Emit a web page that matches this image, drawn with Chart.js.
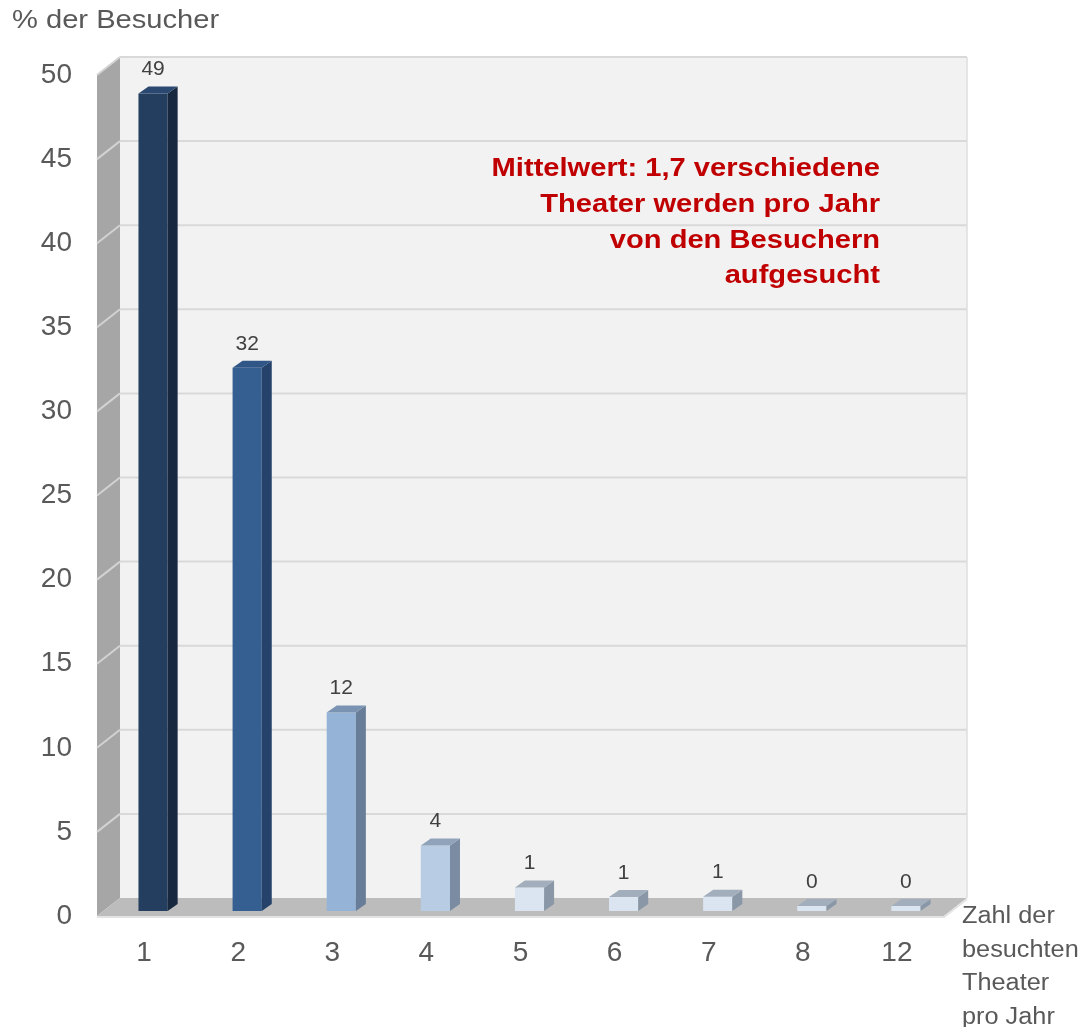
<!DOCTYPE html>
<html><head><meta charset="utf-8">
<script src="https://cdn.jsdelivr.net/npm/chart.js@4/dist/chart.umd.min.js"></script>
<style>html,body{margin:0;padding:0;background:#fff}#wrap{width:1087px;height:1027px}</style>
</head><body><div id="wrap"><canvas id="c" width="1087" height="1027"></canvas></div>
<script>
const categories = ['1', '2', '3', '4', '5', '6', '7', '8', '12'];
const values = [48.6, 32.3, 11.8, 3.9, 1.4, 0.83, 0.85, 0.3, 0.3];
const valueLabels = ['49', '32', '12', '4', '1', '1', '1', '0', '0'];
const yMin = 0, yMax = 50, yStep = 5;
const frontColors = ['#243e5f', '#355f91', '#95b3d7', '#b8cce4', '#dbe5f1', '#dbe5f1', '#dbe5f1', '#dbe5f1', '#dbe5f1'];
const sideColors = ['#18293f', '#24426a', '#687e98', '#7b8ca2', '#8a97a7', '#8a97a7', '#8a97a7', '#8a97a7', '#8a97a7'];
const topColors = ['#2b4970', '#2f5686', '#7a93b2', '#90a3ba', '#a3aebc', '#a3aebc', '#a3aebc', '#a3aebc', '#a3aebc'];
const yAxisTitle = '% der Besucher';
const xAxisTitleLines = ['Zahl der', 'besuchten', 'Theater', 'pro Jahr'];
const noteLines = ['Mittelwert: 1,7 verschiedene', 'Theater werden pro Jahr', 'von den Besuchern', 'aufgesucht'];

const FONT = '"Liberation Sans", Arial, sans-serif';
const WALL_DX = 23, WALL_DY = -18;   // depth of the box
const BAR_SHIFT_X = 9, BAR_SHIFT_Y = -5; // bars sit inside the box
const BAR_DX = 10, BAR_DY = -7;      // depth of each bar

const boxPlugin = {
  id: 'box3d',
  beforeDraw(chart) {
    const ctx = chart.ctx, a = chart.chartArea, ys = chart.scales.y;
    const L = a.left, R = a.right, B = a.bottom, T = ys.getPixelForValue(yMax);
    ctx.save();
    ctx.fillStyle = '#f2f2f2';
    ctx.fillRect(L + WALL_DX, T + WALL_DY, R - L, B - T);
    ctx.fillStyle = '#a6a6a6';
    ctx.beginPath();
    ctx.moveTo(L, B); ctx.lineTo(L, T); ctx.lineTo(L + WALL_DX, T + WALL_DY); ctx.lineTo(L + WALL_DX, B + WALL_DY);
    ctx.closePath(); ctx.fill();
    for (let v = yMin + yStep; v <= yMax; v += yStep) {
      const y = ys.getPixelForValue(v);
      ctx.strokeStyle = '#d9d9d9'; ctx.lineWidth = 2;
      ctx.beginPath(); ctx.moveTo(L + WALL_DX, y + WALL_DY); ctx.lineTo(R + WALL_DX, y + WALL_DY); ctx.stroke();
      ctx.strokeStyle = '#d2d2d2';
      ctx.beginPath(); ctx.moveTo(L, y); ctx.lineTo(L + WALL_DX, y + WALL_DY); ctx.stroke();
    }
    ctx.strokeStyle = '#dedede'; ctx.lineWidth = 1.5;
    ctx.beginPath(); ctx.moveTo(R + WALL_DX, T + WALL_DY); ctx.lineTo(R + WALL_DX, B + WALL_DY); ctx.stroke();
    ctx.fillStyle = '#bcbcbc';
    ctx.beginPath();
    ctx.moveTo(L, B); ctx.lineTo(R, B); ctx.lineTo(R + WALL_DX, B + WALL_DY); ctx.lineTo(L + WALL_DX, B + WALL_DY);
    ctx.closePath(); ctx.fill();
    ctx.strokeStyle = '#e3e3e3'; ctx.lineWidth = 2;
    ctx.beginPath(); ctx.moveTo(L, B + 1); ctx.lineTo(R, B + 1); ctx.lineTo(R + WALL_DX, B + WALL_DY + 1); ctx.stroke();
    ctx.fillStyle = '#595959';
    ctx.font = '26px ' + FONT;
    ctx.textBaseline = 'alphabetic'; ctx.textAlign = 'left';
    ctx.save(); ctx.translate(12, 28); ctx.scale(1.12, 1); ctx.fillText(yAxisTitle, 0, 0); ctx.restore();
    ctx.font = '23px ' + FONT;
    xAxisTitleLines.forEach((t, i) => { ctx.save(); ctx.translate(962, 923 + i * 33.5); ctx.scale(1.1, 1); ctx.fillText(t, 0, 0); ctx.restore(); });
    ctx.fillStyle = '#c00000';
    ctx.font = 'bold 26px ' + FONT;
    ctx.textAlign = 'right';
    const base = [176, 212, 248, 283];
    noteLines.forEach((t, i) => { ctx.save(); ctx.translate(880, base[i]); ctx.scale(1.12, 1); ctx.fillText(t, 0, 0); ctx.restore(); });
    ctx.restore();
  },
  beforeDatasetsDraw(chart) {
    chart.ctx.save();
    chart.ctx.translate(BAR_SHIFT_X, BAR_SHIFT_Y);
  },
  afterDatasetsDraw(chart) {
    const ctx = chart.ctx;
    const meta = chart.getDatasetMeta(0);
    meta.data.forEach((el, i) => {
      const w = el.width, x0 = el.x - w / 2, x1 = el.x + w / 2, top = el.y, bot = el.base;
      ctx.fillStyle = sideColors[i];
      ctx.beginPath();
      ctx.moveTo(x1, bot); ctx.lineTo(x1, top); ctx.lineTo(x1 + BAR_DX, top + BAR_DY); ctx.lineTo(x1 + BAR_DX, bot + BAR_DY);
      ctx.closePath(); ctx.fill();
      ctx.fillStyle = topColors[i];
      ctx.beginPath();
      ctx.moveTo(x0, top); ctx.lineTo(x1, top); ctx.lineTo(x1 + BAR_DX, top + BAR_DY); ctx.lineTo(x0 + BAR_DX, top + BAR_DY);
      ctx.closePath(); ctx.fill();
    });
    ctx.restore();
    ctx.save();
    ctx.fillStyle = '#404040';
    ctx.font = '21px ' + FONT;
    ctx.textAlign = 'center'; ctx.textBaseline = 'middle';
    meta.data.forEach((el, i) => {
      ctx.fillText(valueLabels[i], el.x + BAR_SHIFT_X, el.y + BAR_SHIFT_Y - 24);
    });
    ctx.restore();
  }
};

new Chart(document.getElementById('c'), {
  type: 'bar',
  data: {
    labels: categories,
    datasets: [{
      data: values,
      backgroundColor: frontColors,
      borderWidth: 0,
      barPercentage: 0.31,
      categoryPercentage: 1,
      clip: false
    }]
  },
  options: {
    responsive: false,
    devicePixelRatio: 1,
    animation: false,
    layout: { padding: { top: 75, right: 143, left: 0, bottom: 0 } },
    plugins: { legend: { display: false }, tooltip: { enabled: false } },
    scales: {
      x: {
        grid: { display: false, drawTicks: false },
        border: { display: false },
        ticks: { color: '#595959', font: { size: 28, family: FONT }, padding: 20, maxRotation: 0 },
        afterFit(s) { s.height = 111; }
      },
      y: {
        min: yMin, max: yMax,
        grid: { display: false, drawTicks: false },
        border: { display: false },
        ticks: { stepSize: yStep, color: '#595959', font: { size: 28, family: FONT }, padding: 25 },
        afterFit(s) { s.width = 97; }
      }
    }
  },
  plugins: [boxPlugin]
});
</script>
</body></html>
